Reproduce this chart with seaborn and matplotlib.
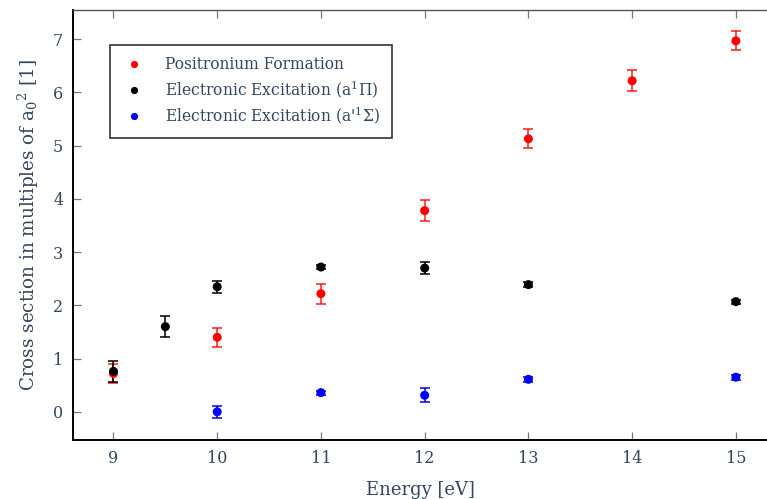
import numpy as np
import pandas as pd
import matplotlib
matplotlib.use("Agg")
import matplotlib.pyplot as plt
import seaborn as sns

# Cross sections (units of a0^2) with uncertainties
ps_energy = [9, 10, 11, 12, 13, 14, 15]
ps_value = [0.72, 1.40, 2.22, 3.78, 5.13, 6.22, 6.97]
ps_err = [0.18, 0.18, 0.19, 0.20, 0.18, 0.20, 0.18]

pi_energy = [9, 9.5, 10, 11, 12, 13, 15]
pi_value = [0.76, 1.60, 2.35, 2.72, 2.70, 2.39, 2.07]
pi_err = [0.20, 0.20, 0.115, 0.04, 0.11, 0.04, 0.04]

sg_energy = [10, 11, 12, 13, 15]
sg_value = [0.00, 0.36, 0.31, 0.61, 0.65]
sg_err = [0.115, 0.04, 0.13, 0.05, 0.05]

labels = ["Positronium Formation",
          r"Electronic Excitation (a$^1\Pi$)",
          r"Electronic Excitation (a'$^1\Sigma$)"]
colors = ["#ff0000", "#000000", "#0000ff"]
x_ticks = [9, 10, 11, 12, 13, 14, 15]
y_ticks = [0, 1, 2, 3, 4, 5, 6, 7]

sns.set_style("white")
text_color = "#34465f"
plt.rcParams["font.family"] = ["DejaVu Serif"]
plt.rcParams["mathtext.fontset"] = "dejavuserif"
plt.rcParams["text.color"] = text_color
plt.rcParams["axes.labelcolor"] = text_color
plt.rcParams["xtick.color"] = "#777777"
plt.rcParams["ytick.color"] = "#777777"
plt.rcParams["xtick.labelcolor"] = text_color
plt.rcParams["ytick.labelcolor"] = text_color

df = pd.concat([
    pd.DataFrame({"energy": ps_energy, "value": ps_value, "err": ps_err, "process": labels[0]}),
    pd.DataFrame({"energy": pi_energy, "value": pi_value, "err": pi_err, "process": labels[1]}),
    pd.DataFrame({"energy": sg_energy, "value": sg_value, "err": sg_err, "process": labels[2]}),
], ignore_index=True)

fig = plt.figure(figsize=(7.67, 4.99), dpi=100)
ax = fig.add_axes([73 / 767, 59 / 499, 1 - 73 / 767, 430 / 499])

for lab, col in zip(labels, colors):
    sub = df[df["process"] == lab]
    ax.errorbar(sub["energy"], sub["value"], yerr=sub["err"], fmt="none",
                ecolor=col, elinewidth=1.3, capsize=3.6, capthick=1.3,
                alpha=0.75 if col == "#ff0000" else 0.85, zorder=2)

sns.scatterplot(data=df, x="energy", y="value", hue="process",
                palette=dict(zip(labels, colors)), hue_order=labels,
                s=42, edgecolor="none", ax=ax, zorder=3)

ax.set_xlim(8.61, 15.3)
ax.set_ylim(-0.53, 7.55)
ax.set_xticks(x_ticks)
ax.set_yticks(y_ticks)
ax.tick_params(axis="both", direction="in", length=6, width=0.9,
               labelsize=11.5, pad=7)
ax.tick_params(axis="x", top=True, bottom=True)
ax.tick_params(axis="y", left=True, right=False)

ax.set_xlabel("Energy [eV]", fontsize=13, labelpad=10)
ax.set_ylabel(r"Cross section in multiples of a$_0$$^2$ [1]", fontsize=13.2, labelpad=9)

for side in ["left", "bottom"]:
    ax.spines[side].set_color("black")
    ax.spines[side].set_linewidth(1.4)
ax.spines["top"].set_color("#555555")
ax.spines["top"].set_linewidth(1.0)
ax.spines["right"].set_visible(False)

leg = ax.legend(loc="upper left", bbox_to_anchor=(0.053, 0.919), fontsize=11.2,
                frameon=True, fancybox=False, edgecolor="black",
                handlelength=1.6, handletextpad=1.2, borderpad=0.75,
                labelspacing=0.3, markerscale=0.8, borderaxespad=0)
leg.get_frame().set_linewidth(1.2)
for t in leg.get_texts():
    t.set_color(text_color)

fig.savefig("out.png", dpi=100)
